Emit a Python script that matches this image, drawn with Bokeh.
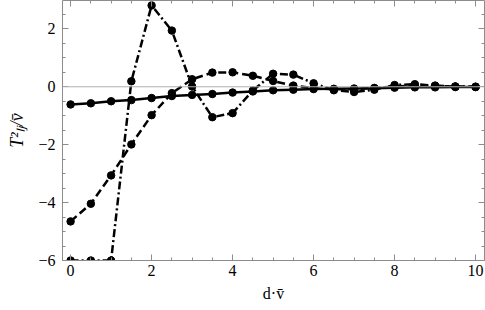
from bokeh.plotting import figure
from bokeh.models import LinearAxis, Range1d, Span, FixedTicker
from bokeh.embed import file_html
from bokeh.resources import INLINE

# data
x_vals = [0, 0.5, 1, 1.5, 2, 2.5, 3, 3.5, 4, 4.5, 5, 5.5, 6, 6.5, 7, 7.5, 8, 8.5, 9, 9.5, 10]
solid_vals = [-0.61, -0.57, -0.50, -0.46, -0.39, -0.32, -0.28, -0.25, -0.20, -0.16, -0.12,
              -0.10, -0.08, -0.07, -0.06, -0.05, -0.03, -0.02, -0.02, -0.01, -0.01]
dashed_vals = [-4.65, -4.04, -3.06, -1.99, -0.98, -0.22, 0.26, 0.49, 0.50, 0.38, 0.20,
               0.04, -0.05, -0.09, -0.08, -0.04, 0.01, 0.04, 0.03, 0.01, 0.0]
dashdot_vals = [-6.0, -6.0, -6.0, 0.19, 2.81, 1.94, 0.01, -1.05, -0.91, -0.13, 0.45,
                0.42, 0.12, -0.12, -0.18, -0.10, 0.06, 0.09, 0.04, 0.01, 0.0]
x_ticks = [0, 2, 4, 6, 8, 10]
y_ticks = [-6, -4, -2, 0, 2]
y_tick_labels = {-6: "\u22126", -4: "\u22124", -2: "\u22122", 0: "0", 2: "2"}

FONT = "Liberation Serif"
AXIS_COLOR = "#8c8c8c"

p = figure(width=485, height=310, x_range=Range1d(-0.2, 10.22), y_range=Range1d(-6, 2.98),
           output_backend="svg", toolbar_location=None,
           min_border_left=62, min_border_right=1, min_border_top=0, min_border_bottom=50)
p.grid.visible = False
p.outline_line_color = None
p.background_fill_color = "white"
p.border_fill_color = "white"


def style_axis(ax, ticks, show_labels):
    ax.ticker = FixedTicker(ticks=ticks, minor_ticks=[t / 2 for t in range(-14, 22)])
    ax.axis_line_color = AXIS_COLOR
    ax.axis_line_width = 1
    ax.major_tick_line_color = AXIS_COLOR
    ax.minor_tick_line_color = AXIS_COLOR
    ax.major_tick_in = 6
    ax.major_tick_out = 0
    ax.minor_tick_in = 3
    ax.minor_tick_out = 0
    ax.major_label_text_font = FONT
    ax.major_label_text_color = "black"
    ax.axis_label_text_font = FONT
    ax.axis_label_text_color = "black"
    if not show_labels:
        ax.major_label_overrides = {t: "" for t in ticks}
        ax.major_label_standoff = 0
        ax.axis_label = None


xa = p.xaxis[0]
style_axis(xa, x_ticks, True)
xa.major_label_text_font_size = "16px"
xa.major_label_standoff = 4
xa.axis_label = "d\u00b7v\u0304"
xa.axis_label_text_font_size = "16px"
xa.axis_label_text_font_style = "normal"
xa.axis_label_standoff = 6

ya = p.yaxis[0]
style_axis(ya, y_ticks, True)
ya.major_label_overrides = y_tick_labels
ya.major_label_text_font_size = "16px"
ya.major_label_standoff = 7
ya.axis_label = "T\u00b2\u2097\u2c7c/v\u0304"
ya.axis_label_text_font_size = "18px"
ya.axis_label_text_font_style = "italic"
ya.axis_label_standoff = 8

top = LinearAxis()
style_axis(top, x_ticks, False)
p.add_layout(top, "above")
right = LinearAxis()
style_axis(right, y_ticks, False)
p.add_layout(right, "right")

p.add_layout(Span(location=0, dimension="width", line_color="#b0b0b0", line_width=1))

p.line(x_vals, solid_vals, line_color="black", line_width=2.5)
p.scatter(x_vals, solid_vals, size=7.5, color="black")

p.line(x_vals, dashed_vals, line_color="black", line_width=2.5, line_dash="8 4")
p.scatter(x_vals, dashed_vals, size=7.5, color="black")

p.line(x_vals, dashdot_vals, line_color="black", line_width=2.5, line_dash="8 3 2 3")
p.scatter(x_vals, dashdot_vals, size=7.5, color="black")

open("out.html", "w").write(file_html(p, INLINE))
